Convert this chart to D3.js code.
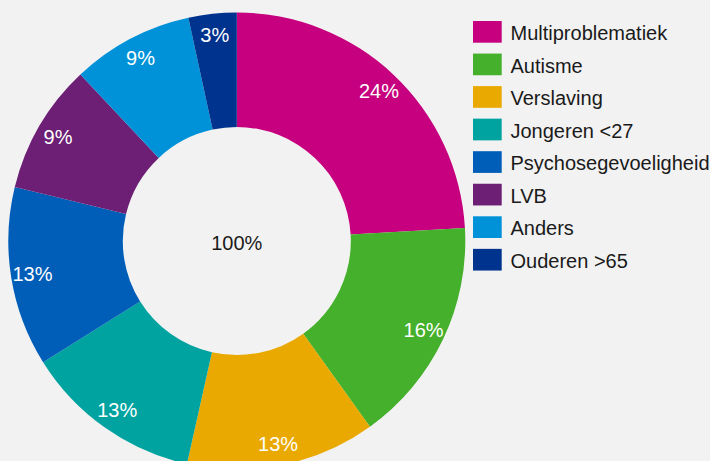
<!DOCTYPE html>
<html>
<head>
<meta charset="utf-8">
<script src="https://cdn.jsdelivr.net/npm/d3@7"></script>
<style>
  html, body { margin: 0; padding: 0; background: #f2f2f2; }
  svg { display: block; font-family: "Liberation Sans", Arial, sans-serif; }
</style>
</head>
<body>
<svg id="chart" width="710" height="461"></svg>
<script>
const categories = ["Multiproblematiek", "Autisme", "Verslaving", "Jongeren <27", "Psychosegevoeligheid", "LVB", "Anders", "Ouderen >65"];
const values = [24.1, 16.0, 13.4, 12.6, 12.7, 9.2, 8.6, 3.4];
const labels = ["24%", "16%", "13%", "13%", "13%", "9%", "9%", "3%"];
const colors = ["#c6007e", "#45b02b", "#e9a900", "#00a39f", "#005eb8", "#6c1f74", "#0092d8", "#00338d"];
const centerLabel = "100%";

const svg = d3.select("#chart");
const cx = 236.8, cy = 241, R = 228.5, r = 114;

const data = categories.map((c, i) => ({ cat: c, value: values[i], label: labels[i], color: colors[i] }));

const pie = d3.pie().value(d => d.value).sort(null);
const arc = d3.arc().innerRadius(r).outerRadius(R);
const labelArc = d3.arc().innerRadius(207).outerRadius(207);

const g = svg.append("g").attr("transform", `translate(${cx},${cy})`);
const arcs = pie(data);

g.selectAll("path.slice").data(arcs).join("path")
  .attr("class", "slice")
  .attr("d", arc)
  .attr("fill", d => d.data.color);

g.selectAll("text.lbl").data(arcs).join("text")
  .attr("class", "lbl")
  .attr("transform", d => `translate(${labelArc.centroid(d)})`)
  .attr("text-anchor", "middle")
  .attr("dy", "0.35em")
  .attr("fill", "#ffffff")
  .attr("font-size", "20px")
  .text(d => d.data.label);

g.append("text")
  .attr("text-anchor", "middle")
  .attr("dy", "0.35em")
  .attr("y", 1.5)
  .attr("fill", "#1a1a1a")
  .attr("font-size", "20px")
  .text(centerLabel);

// Legend
const legend = svg.append("g").attr("transform", "translate(473,21)");
const rowY = d3.scaleBand().domain(categories).range([0, 32.55 * categories.length]);
const items = legend.selectAll("g.item").data(data).join("g")
  .attr("class", "item")
  .attr("transform", d => `translate(0,${rowY(d.cat)})`);
items.append("rect")
  .attr("width", 28.7).attr("height", 21.7)
  .attr("fill", d => d.color);
items.append("text")
  .attr("x", 37.5)
  .attr("y", 19)
  .attr("fill", "#1a1a1a")
  .attr("font-size", "20px")
  .text(d => d.cat);
</script>
</body>
</html>
